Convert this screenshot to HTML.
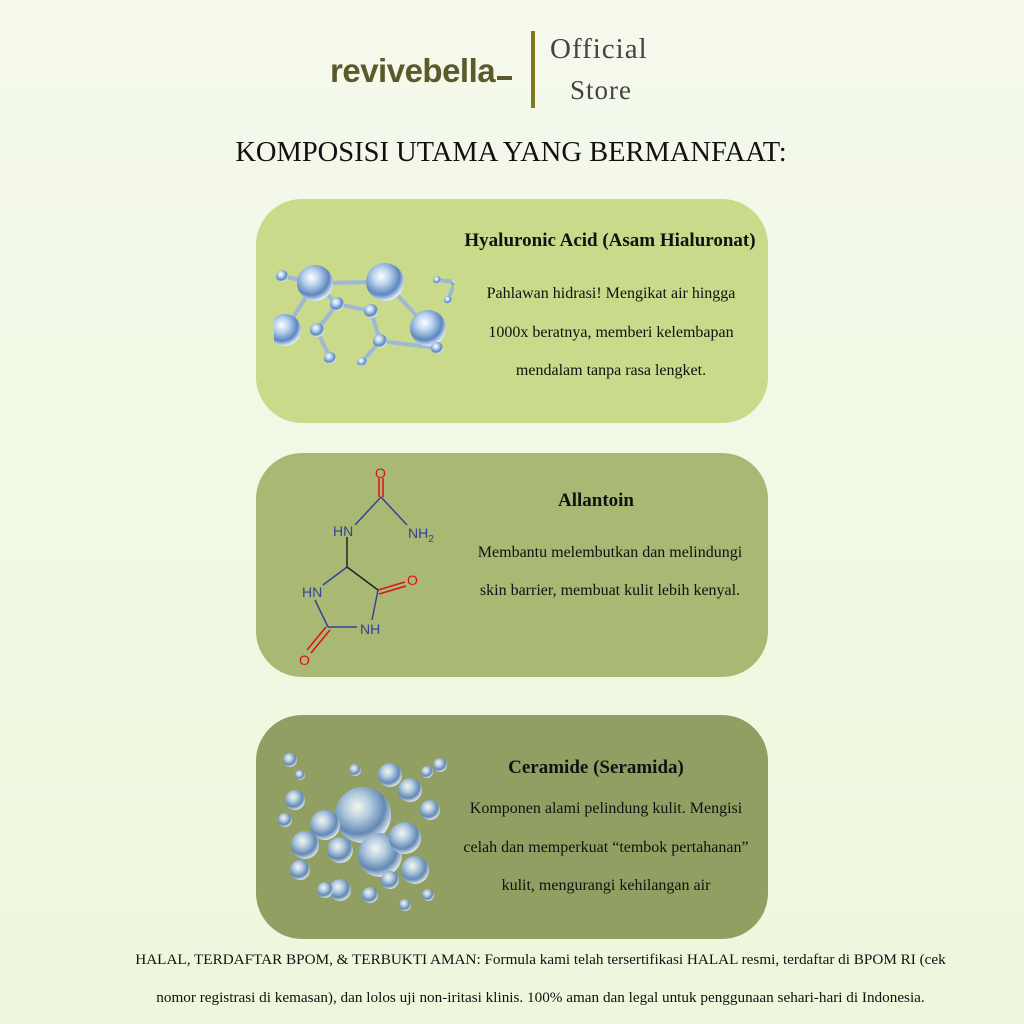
<!DOCTYPE html>
<html><head><meta charset="utf-8"><style>
body{margin:0;width:1024px;height:1024px;overflow:hidden;background:linear-gradient(180deg,#f4f9ec 0%,#eef7dc 100%);font-family:"Liberation Serif",serif;position:relative}
.abs{position:absolute}
.card{position:absolute;left:256px;width:512px;height:224px;border-radius:46px}
.t{position:absolute;text-align:center;color:#111}
.h{font-weight:bold}
</style></head><body>
<div class="abs" style="left:330px;top:52px;font-family:'Liberation Sans',sans-serif;font-weight:bold;font-size:33px;color:#5a5a2a;letter-spacing:-0.5px">revivebella</div>
<div class="abs" style="left:497px;top:76px;width:15px;height:4px;background:#5a5a2a"></div>
<div class="abs" style="left:531px;top:31px;width:4px;height:77px;background:#7e7a1e"></div>
<div class="abs" style="left:550px;top:33px;font-size:29px;color:#444;letter-spacing:1px">Official</div>
<div class="abs" style="left:570px;top:75px;font-size:27px;color:#444;letter-spacing:1px">Store</div>
<div class="t" style="left:0;width:1022px;top:137px;font-size:28.5px;color:#111">KOMPOSISI UTAMA YANG BERMANFAAT:</div>

<div class="card" style="top:199px;background:#c9da8a"></div>
<div class="card" style="top:453px;background:#a9b873"></div>
<div class="card" style="top:715px;background:#929f62"></div>

<svg class="abs" style="left:0;top:0" width="1024" height="1024">
<defs>
<radialGradient id="g" cx="40%" cy="35%" r="65%"><stop offset="0" stop-color="#ffffff"/><stop offset="0.35" stop-color="#b9d2ee"/><stop offset="0.75" stop-color="#5d86bd"/><stop offset="1" stop-color="#dfeaf7"/></radialGradient>
<clipPath id="c1"><rect x="274" y="260" width="180" height="105"/></clipPath>
</defs>
<g clip-path="url(#c1)" stroke="#9fb8d6" stroke-width="4">
<line x1="315" y1="283" x2="385" y2="282"/><line x1="385" y1="282" x2="428" y2="328"/><line x1="315" y1="283" x2="285" y2="330"/>
<line x1="315" y1="283" x2="337" y2="304"/><line x1="337" y1="304" x2="371" y2="311"/><line x1="371" y1="311" x2="380" y2="341"/><line x1="337" y1="304" x2="317" y2="330"/><line x1="317" y1="330" x2="330" y2="358"/><line x1="380" y1="341" x2="362" y2="362"/><line x1="380" y1="341" x2="437" y2="348"/><line x1="437" y1="280" x2="455" y2="282"/><line x1="455" y1="282" x2="448" y2="300"/><line x1="282" y1="276" x2="315" y2="283"/>
<g stroke="none" fill="url(#g)">
<circle cx="315" cy="283" r="18"/><circle cx="385" cy="282" r="19"/><circle cx="428" cy="328" r="18"/><circle cx="285" cy="330" r="16"/>
<circle cx="282" cy="276" r="6"/><circle cx="337" cy="304" r="7"/><circle cx="371" cy="311" r="7"/><circle cx="317" cy="330" r="7"/><circle cx="380" cy="341" r="7"/><circle cx="330" cy="358" r="6"/><circle cx="362" cy="362" r="5"/><circle cx="437" cy="348" r="6"/><circle cx="437" cy="280" r="4"/><circle cx="455" cy="282" r="4"/><circle cx="448" cy="300" r="4"/>
</g></g>

<g stroke-width="1.5" fill="none">
<line x1="379" y1="478" x2="379" y2="497" stroke="#d11"/><line x1="383" y1="478" x2="383" y2="497" stroke="#d11"/>
<line x1="381" y1="497" x2="355" y2="525" stroke="#334499"/><line x1="381" y1="497" x2="407" y2="525" stroke="#334499"/>
<line x1="347" y1="537" x2="347" y2="567" stroke="#222"/>
<line x1="347" y1="567" x2="323" y2="585" stroke="#334499"/><line x1="347" y1="567" x2="378" y2="590" stroke="#222"/>
<line x1="378" y1="590" x2="405" y2="582" stroke="#d11"/><line x1="379" y1="594" x2="406" y2="586" stroke="#d11"/>
<line x1="378" y1="590" x2="372" y2="620" stroke="#334499"/>
<line x1="315" y1="600" x2="328" y2="627" stroke="#334499"/><line x1="328" y1="627" x2="357" y2="627" stroke="#334499"/>
<line x1="326" y1="627" x2="307" y2="650" stroke="#d11"/><line x1="330" y1="630" x2="311" y2="653" stroke="#d11"/>
</g>
<g font-family="Liberation Sans,sans-serif" font-size="14">
<text x="375" y="478" fill="#d11">O</text><text x="333" y="536" fill="#334499">HN</text><text x="408" y="538" fill="#334499">NH<tspan font-size="10" dy="4">2</tspan></text>
<text x="302" y="597" fill="#334499">HN</text><text x="407" y="585" fill="#d11">O</text><text x="360" y="634" fill="#334499">NH</text><text x="299" y="665" fill="#d11">O</text>
</g>

<g fill="url(#g)" opacity="0.9">
<circle cx="363" cy="815" r="28"/><circle cx="380" cy="855" r="22"/><circle cx="405" cy="838" r="16"/><circle cx="325" cy="825" r="15"/><circle cx="305" cy="845" r="14"/><circle cx="340" cy="850" r="13"/><circle cx="295" cy="800" r="10"/><circle cx="415" cy="870" r="14"/><circle cx="390" cy="775" r="12"/><circle cx="410" cy="790" r="12"/><circle cx="430" cy="810" r="10"/><circle cx="300" cy="870" r="10"/><circle cx="340" cy="890" r="11"/><circle cx="370" cy="895" r="8"/><circle cx="325" cy="890" r="8"/><circle cx="440" cy="765" r="7"/><circle cx="427" cy="772" r="6"/><circle cx="290" cy="760" r="7"/><circle cx="300" cy="775" r="5"/><circle cx="285" cy="820" r="7"/><circle cx="428" cy="895" r="6"/><circle cx="355" cy="770" r="6"/><circle cx="405" cy="905" r="6"/><circle cx="390" cy="880" r="9"/>
</g>
</svg>

<div class="t h" style="left:440px;width:340px;top:230px;font-size:19px">Hyaluronic Acid (Asam Hialuronat)</div>
<div class="t" style="left:446px;width:330px;top:275px;font-size:16px;line-height:38.5px">Pahlawan hidrasi! Mengikat air hingga<br>1000x beratnya, memberi kelembapan<br>mendalam tanpa rasa lengket.</div>
<div class="t h" style="left:446px;width:300px;top:490px;font-size:19px">Allantoin</div>
<div class="t" style="left:440px;width:340px;top:534px;font-size:16px;line-height:38px">Membantu melembutkan dan melindungi<br>skin barrier, membuat kulit lebih kenyal.</div>
<div class="t h" style="left:446px;width:300px;top:757px;font-size:19px">Ceramide (Seramida)</div>
<div class="t" style="left:436px;width:340px;top:790px;font-size:16px;line-height:38.5px">Komponen alami pelindung kulit. Mengisi<br>celah dan memperkuat “tembok pertahanan”<br>kulit, mengurangi kehilangan air</div>

<div class="t" style="left:0;width:1081px;top:941px;font-size:15.2px;line-height:38px">HALAL, TERDAFTAR BPOM, &amp; TERBUKTI AMAN: Formula kami telah tersertifikasi HALAL resmi, terdaftar di BPOM RI (cek<br>nomor registrasi di kemasan), dan lolos uji non-iritasi klinis. 100% aman dan legal untuk penggunaan sehari-hari di Indonesia.</div>
</body></html>
